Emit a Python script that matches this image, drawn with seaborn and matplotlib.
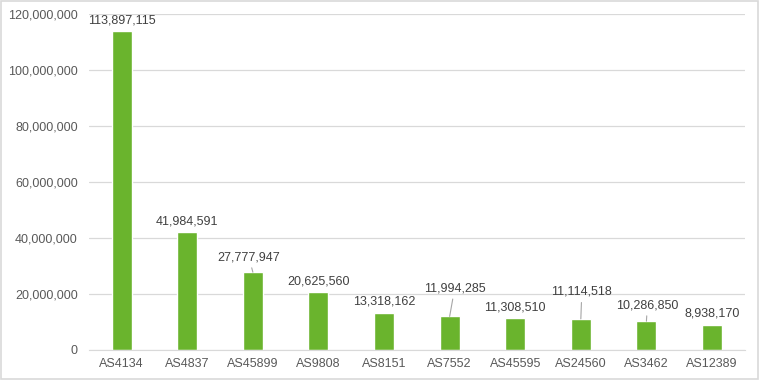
import matplotlib
matplotlib.use("Agg")
import matplotlib.pyplot as plt
import seaborn as sns
from matplotlib.ticker import FuncFormatter, MultipleLocator

asns = ["AS4134", "AS4837", "AS45899", "AS9808", "AS8151",
        "AS7552", "AS45595", "AS24560", "AS3462", "AS12389"]
counts = [113897115, 41984591, 27777947, 20625560, 13318162,
          11994285, 11308510, 11114518, 10286850, 8938170]

sns.set_style("white")
plt.rcParams['font.family'] = ['Liberation Sans', 'DejaVu Sans']

fig = plt.figure(figsize=(7.6, 3.8), dpi=100)
ax = fig.add_axes([0.117, 0.079, 0.863, 0.884])

sns.barplot(x=asns, y=counts, color="#6ab42d", saturation=1, width=0.305, ax=ax)

ax.set_ylim(0, 120000000)
ax.set_xlim(-0.5, 9.5)
ax.yaxis.set_major_locator(MultipleLocator(20000000))
ax.yaxis.set_major_formatter(FuncFormatter(lambda v, p: f"{int(v):,}"))
ax.grid(axis="y", color="#d9d9d9", linewidth=0.9)
ax.set_axisbelow(True)
for s in ["top", "right", "left"]:
    ax.spines[s].set_visible(False)
ax.spines["bottom"].set_color("#d9d9d9")
ax.tick_params(axis="both", length=0, labelsize=9, colors="#595959")
ax.tick_params(axis="y", pad=8)
ax.tick_params(axis="x", pad=6)
ax.set_xlabel("")
ax.set_ylabel("")

# labels pulled away from some bars, with a leader line (pixel offsets)
leader = {2: (-4, 15), 5: (5, 28), 7: (1, 27), 8: (1, 16)}
for i, v in enumerate(counts):
    if i in leader:
        dx, dy = leader[i]
        ax.annotate(f"{v:,}", xy=(i, v), xytext=(dx, dy), textcoords="offset pixels",
                    ha="center", va="center", fontsize=9, color="#404040",
                    arrowprops=dict(arrowstyle="-", color="#a6a6a6", lw=0.8,
                                    shrinkA=1, shrinkB=0))
    else:
        ax.annotate(f"{v:,}", xy=(i, v), xytext=(0, 11), textcoords="offset pixels",
                    ha="center", va="center", fontsize=9, color="#404040")

fig.patches.append(plt.Rectangle((0.001, 0.002), 0.997, 0.995, transform=fig.transFigure,
                                 fill=False, edgecolor="#d9d9d9", linewidth=1.2))

fig.savefig("out.png", dpi=100)
